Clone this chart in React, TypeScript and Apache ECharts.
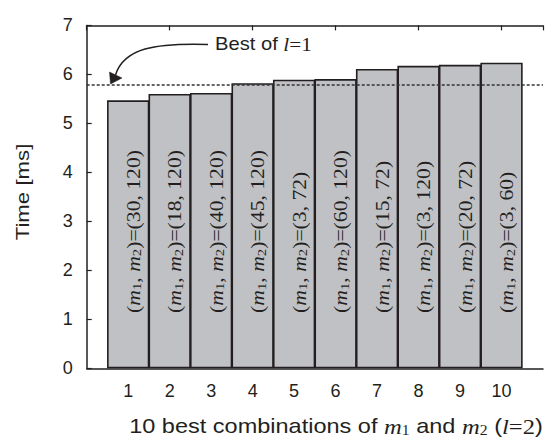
import React, { useEffect, useRef } from 'react';
import * as echarts from 'echarts';

const categories = [1, 2, 3, 4, 5, 6, 7, 8, 9, 10];
const times = [5.47, 5.6, 5.62, 5.82, 5.89, 5.905, 6.11, 6.175, 6.195, 6.24];
const m1Values = [30, 18, 40, 45, 3, 60, 15, 3, 20, 3];
const m2Values = [120, 120, 120, 120, 72, 120, 72, 120, 72, 60];
const bestOfL1 = 5.79;
const yMin = 0;
const yMax = 7;

const SANS = '"Liberation Sans", Arial, Helvetica, sans-serif';
const SERIF = '"Liberation Serif", "Times New Roman", serif';
const INK = '#231f20';

export default function App() {
  const ref = useRef<HTMLDivElement>(null);

  useEffect(() => {
    const chart = echarts.init(ref.current!, null, { renderer: 'svg' });
    chart.setOption({
      animation: false,
      backgroundColor: '#ffffff',
      grid: { left: 86.7, top: 25.4, right: -6, bottom: 73.7 },
      xAxis: [
        {
          type: 'value',
          position: 'bottom',
          min: 0,
          max: 11,
          interval: 1,
          splitLine: { show: false },
          axisLine: { show: true, onZero: false, lineStyle: { color: INK, width: 1.5 } },
          axisTick: { show: false },
          axisLabel: {
            margin: 14,
            fontFamily: SANS,
            fontSize: 18,
            color: INK,
            formatter: (v: number) => (v >= 1 && v <= 10 ? String(v) : ''),
          },
        },
        {
          type: 'value',
          position: 'top',
          min: 0,
          max: 11,
          interval: 2,
          splitLine: { show: false },
          axisLine: { show: true, onZero: false, lineStyle: { color: INK, width: 1.5 } },
          axisTick: { show: true, inside: true, length: 5, lineStyle: { color: INK, width: 1.2 } },
          axisLabel: { show: false },
        },
      ],
      yAxis: {
        type: 'value',
        min: yMin,
        max: yMax,
        interval: 1,
        splitLine: { show: false },
        axisLine: { show: true, onZero: false, lineStyle: { color: INK, width: 1.5 } },
        axisTick: { show: true, inside: true, length: 5, lineStyle: { color: INK, width: 1.2 } },
        axisLabel: {
          margin: 14,
          fontFamily: SANS,
          fontSize: 18,
          color: INK,
          padding: [0, 0, 5, 0],
        },
      },
      series: [
        {
          type: 'bar',
          xAxisIndex: 0,
          data: categories.map((c, i) => [c, times[i]]),
          barWidth: 42.3,
          itemStyle: { color: '#c0c1c5', borderColor: '#231f20', borderWidth: 1.6 },
          markLine: {
            silent: true,
            symbol: 'none',
            label: { show: false },
            lineStyle: { color: '#333333', width: 1.6, type: [3, 2] },
            data: [{ yAxis: bestOfL1 }],
          },
        },
      ],
    });

    const labelY = chart.convertToPixel({ yAxisIndex: 0 }, 1.13) as number;
    const barLabels = categories.map((c, i) => {
      const x = chart.convertToPixel({ xAxisIndex: 0 }, c) as number;
      return {
        type: 'text',
        x: x + 5,
        y: labelY,
        rotation: Math.PI / 2,
        scaleX: 1.14,
        z: 100,
        style: {
          text: `({i|m}{s|1}, {i|m}{s|2})=(${m1Values[i]}, ${m2Values[i]})`,
          fontFamily: SERIF,
          fontSize: 19,
          fill: INK,
          align: 'left',
          verticalAlign: 'middle',
          rich: {
            i: { fontFamily: SERIF, fontStyle: 'italic', fontSize: 19, fill: INK },
            s: { fontFamily: SERIF, fontSize: 13, fill: INK, padding: [8, 0, 0, 0] },
          },
        },
      };
    });

    chart.setOption({
      graphic: [
        ...barLabels,
        {
          type: 'text',
          x: 22.5,
          y: 192,
          rotation: Math.PI / 2,
          scaleX: 1.17,
          style: {
            text: 'Time [ms]',
            fontFamily: SANS,
            fontSize: 19,
            fill: INK,
            align: 'center',
            verticalAlign: 'middle',
          },
        },
        {
          type: 'text',
          x: 336,
          y: 426,
          scaleX: 1.12,
          style: {
            text: '10 best combinations of {i|m}{s|1} and {i|m}{s|2} ({i|l}{r|=2})',
            fontFamily: SANS,
            fontSize: 21,
            fill: INK,
            align: 'center',
            verticalAlign: 'middle',
            rich: {
              i: { fontFamily: SERIF, fontStyle: 'italic', fontSize: 22, fill: INK },
              s: { fontFamily: SERIF, fontSize: 14, fill: INK, padding: [9, 0, 0, 0] },
              r: { fontFamily: SERIF, fontSize: 22, fill: INK },
            },
          },
        },
        {
          type: 'text',
          x: 215,
          y: 44,
          scaleX: 1.12,
          style: {
            text: 'Best of {i|l}{r|=1}',
            fontFamily: SANS,
            fontSize: 18,
            fill: INK,
            align: 'left',
            verticalAlign: 'middle',
            rich: {
              i: { fontFamily: SERIF, fontStyle: 'italic', fontSize: 19, fill: INK },
              r: { fontFamily: SERIF, fontSize: 19, fill: INK },
            },
          },
        },
        {
          type: 'bezierCurve',
          shape: { x1: 208, y1: 44.5, cpx1: 155, cpy1: 43, cpx2: 124, cpy2: 48, x2: 115.5, y2: 75 },
          style: { stroke: INK, lineWidth: 1.5, fill: 'none' },
        },
        {
          type: 'polygon',
          shape: { points: [[110.5, 84], [109.5, 72], [122, 78]] },
          style: { fill: INK, stroke: INK, lineWidth: 0.5 },
        },
      ],
    });

    return () => chart.dispose();
  }, []);

  return (
    <div
      ref={ref}
      style={{ position: 'fixed', left: 0, top: 0, width: 546, height: 442 }}
    />
  );
}
